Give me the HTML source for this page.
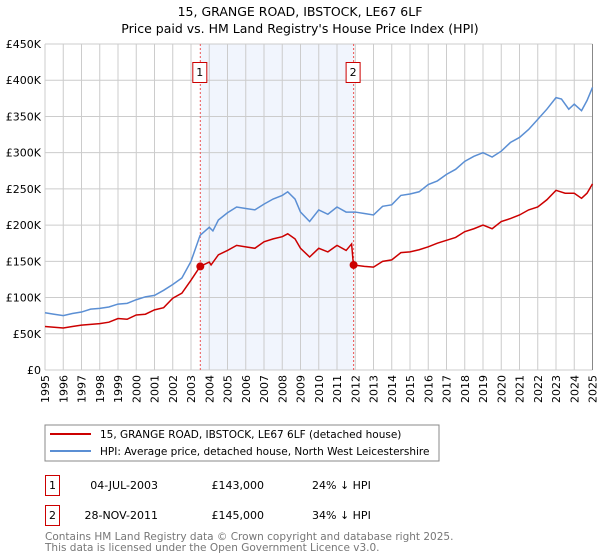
<!DOCTYPE html>
<html><head><meta charset="utf-8"><style>
body{margin:0;background:#fff;}
svg{display:block;font-family:"DejaVu Sans","Liberation Sans",sans-serif;}
</style></head><body>
<svg id="c" width="600" height="560" xmlns="http://www.w3.org/2000/svg">
<text x="300" y="16" text-anchor="middle" font-size="12.5">15, GRANGE ROAD, IBSTOCK, LE67 6LF</text>
<text x="300" y="33" text-anchor="middle" font-size="12.5">Price paid vs. HM Land Registry's House Price Index (HPI)</text>
<g id="grid"></g><g id="axes"></g><g id="series"></g>
<rect x="45" y="425" width="394" height="36" fill="#fff" stroke="#888"/>
<line x1="50" y1="434" x2="91" y2="434" stroke="#cc0000" stroke-width="2"/>
<text x="100" y="438" font-size="10.5">15, GRANGE ROAD, IBSTOCK, LE67 6LF (detached house)</text>
<line x1="50" y1="451" x2="91" y2="451" stroke="#5b8fd4" stroke-width="2"/>
<text x="100" y="455" font-size="10.5">HPI: Average price, detached house, North West Leicestershire</text>
<rect x="45.5" y="475.5" width="14" height="20" fill="#fff" stroke="#cc0000"/>
<text x="52.5" y="489" font-size="11" text-anchor="middle">1</text>
<text x="158" y="489" font-size="11" text-anchor="end">04-JUL-2003</text>
<text x="264" y="489" font-size="11" text-anchor="end">£143,000</text>
<text x="312" y="489" font-size="11">24% ↓ HPI</text>
<rect x="45.5" y="505.5" width="14" height="20" fill="#fff" stroke="#cc0000"/>
<text x="52.5" y="519" font-size="11" text-anchor="middle">2</text>
<text x="158" y="519" font-size="11" text-anchor="end">28-NOV-2011</text>
<text x="264" y="519" font-size="11" text-anchor="end">£145,000</text>
<text x="312" y="519" font-size="11">34% ↓ HPI</text>
<text x="45" y="540" font-size="10.5" fill="#777">Contains HM Land Registry data © Crown copyright and database right 2025.</text>
<text x="45" y="551" font-size="10.5" fill="#777">This data is licensed under the Open Government Licence v3.0.</text>
</svg>
<script>
const yTicks=[0,50,100,150,200,250,300,350,400,450];
const yTickLabels=["£0","£50K","£100K","£150K","£200K","£250K","£300K","£350K","£400K","£450K"];
const years=[1995,1996,1997,1998,1999,2000,2001,2002,2003,2004,2005,2006,2007,2008,2009,2010,2011,2012,2013,2014,2015,2016,2017,2018,2019,2020,2021,2022,2023,2024,2025];
const hpiT=[1995,1995.5,1996,1996.5,1997,1997.5,1998,1998.5,1999,1999.5,2000,2000.5,2001,2001.5,2002,2002.5,2003,2003.5,2004,2004.2,2004.5,2005,2005.5,2006,2006.5,2007,2007.5,2008,2008.3,2008.7,2009,2009.5,2010,2010.5,2011,2011.5,2012,2012.5,2013,2013.5,2014,2014.5,2015,2015.5,2016,2016.5,2017,2017.5,2018,2018.5,2019,2019.5,2020,2020.5,2021,2021.5,2022,2022.5,2023,2023.3,2023.7,2024,2024.4,2024.7,2025];
const hpiV=[79,77,75,78,80,84,85,87,91,92,97,101,103,110,118,127,150,186,197,192,207,217,225,223,221,229,236,241,246,236,218,205,221,215,225,218,218,216,214,226,228,241,243,246,256,261,270,277,288,295,300,294,302,314,321,332,346,360,376,374,360,367,358,372,390];
const priceT=[1995,1995.5,1996,1996.5,1997,1997.5,1998,1998.5,1999,1999.5,2000,2000.5,2001,2001.5,2002,2002.5,2003,2003.5,2004,2004.1,2004.5,2005,2005.5,2006,2006.5,2007,2007.5,2008,2008.3,2008.7,2009,2009.5,2010,2010.5,2011,2011.5,2011.8,2011.9,2012.5,2013,2013.5,2014,2014.5,2015,2015.5,2016,2016.5,2017,2017.5,2018,2018.5,2019,2019.5,2020,2020.5,2021,2021.5,2022,2022.5,2023,2023.5,2024,2024.4,2024.7,2025];
const priceV=[60,59,58,60,62,63,64,66,71,70,76,77,83,86,99,106,124,143,149,145,159,165,172,170,168,177,181,184,188,181,168,156,168,163,172,165,174,145,143,142,150,152,162,163,166,170,175,179,183,191,195,200,195,205,209,214,221,225,235,248,244,244,237,244,257];
const saleT=[2003.51,2011.91];
const saleV=[143,145];
const saleLabels=["1","2"];
const X0=45,X1=592.5,Y0=370,Y1=44;
const xs=t=>X0+(t-1995)/30*(X1-X0);
const ys=v=>Y0-v/450*(Y0-Y1);
const NS="http://www.w3.org/2000/svg";
function mk(tag,attrs,parent){const e=document.createElementNS(NS,tag);for(const k in attrs)e.setAttribute(k,attrs[k]);parent.appendChild(e);return e;}
const grid=document.getElementById('grid'),axes=document.getElementById('axes'),ser=document.getElementById('series');
const shade=mk('rect',{x:xs(saleT[0]),y:Y1,width:xs(saleT[1])-xs(saleT[0]),height:Y0-Y1,fill:'#eef3fc',opacity:0.8},grid);


yTicks.forEach((v,i)=>{
  const l=mk('line',{x1:X0,x2:X1,y1:ys(v),y2:ys(v),stroke:'#ccc'},grid);
  
  
  const t=mk('text',{x:X0-4,y:ys(v)+4,'text-anchor':'end','font-size':11},axes);
  t.textContent=yTickLabels[i];
  
  
});
years.forEach(y=>{
  const l=mk('line',{x1:xs(y),x2:xs(y),y1:Y1,y2:Y0,stroke:'#ccc'},grid);
  
  
  const t=mk('text',{x:0,y:0,'text-anchor':'end','font-size':11,transform:`translate(${xs(y)+4},${Y0+5}) rotate(-90)`},axes);
  t.textContent=y;
  
  
});
const ax=mk('line',{x1:X1,x2:X1,y1:Y1,y2:Y0,stroke:'#888'},axes);


saleT.forEach((t,i)=>{
  const l=mk('line',{x1:xs(t),x2:xs(t),y1:Y1,y2:Y0,stroke:'#e55','stroke-dasharray':'2,2'},ser);
  
  
  const r=mk('rect',{x:xs(t)-7.5,y:62.5,width:14,height:20,fill:'#fff',stroke:'#cc0000'},ser);
  
  
  const tx=mk('text',{x:xs(t)-0.5,y:76,'text-anchor':'middle','font-size':11},ser);
  tx.textContent=saleLabels[i];
  
  
});
const hp=mk('polyline',{points:hpiT.map((t,i)=>xs(t)+','+ys(hpiV[i])).join(' '),fill:'none',stroke:'#5b8fd4','stroke-width':1.5},ser);


const pp=mk('polyline',{points:priceT.map((t,i)=>xs(t)+','+ys(priceV[i])).join(' '),fill:'none',stroke:'#cc0000','stroke-width':1.5},ser);


saleT.forEach((t,i)=>{
  const c=mk('circle',{cx:xs(t),cy:ys(saleV[i]),r:4,fill:'#cc0000'},ser);
  
  
});
</script>
</body></html>
